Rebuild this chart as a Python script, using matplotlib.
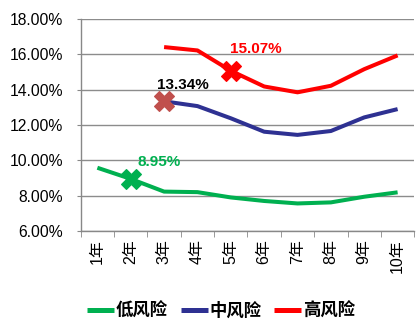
import matplotlib
matplotlib.use("Agg")
import matplotlib.pyplot as plt
from matplotlib.ticker import FuncFormatter

plt.rcParams['font.family'] = ['Liberation Sans', 'Noto Sans CJK SC']

years = ["1年", "2年", "3年", "4年", "5年", "6年", "7年", "8年", "9年", "10年"]

# yields by holding period (%), None where the series is absent
low_risk = [9.58, 8.95, 8.23, 8.2, 7.9, 7.7, 7.56, 7.62, 7.94, 8.19]
mid_risk = [None, None, 13.34, 13.07, 12.38, 11.62, 11.44, 11.66, 12.43, 12.9]
high_risk = [None, None, 16.41, 16.22, 15.07, 14.18, 13.85, 14.22, 15.16, 15.94]

series_names = ["低风险", "中风险", "高风险"]
series_colors = ["#00B050", "#2E3192", "#FF0000"]

# highlighted points: (series index, category index, label colour, marker colour)
highlights = [(0, 1, "#00B050", "#00B050"),
              (1, 2, "#000000", "#C0504D"),
              (2, 4, "#FF0000", "#FF0000")]

fig = plt.figure(figsize=(4.17, 3.32), dpi=100)
ax = fig.add_axes([0.1935, 0.3042, 0.80, 0.6386])

all_series = [low_risk, mid_risk, high_risk]
for vals, name, col in zip(all_series, series_names, series_colors):
    xs = [i for i, v in enumerate(vals) if v is not None]
    ys = [v for v in vals if v is not None]
    ax.plot(xs, ys, color=col, lw=2.9, solid_capstyle="butt", label=name, zorder=3)

label_offsets = {0: (0.85, 0.94), 1: (0.57, 0.9), 2: (0.75, 1.23)}
for si, ci, tcol, mcol in highlights:
    v = all_series[si][ci]
    ax.plot(ci, v, marker="X", ms=14, color=mcol, mec=mcol, mew=0.8, zorder=4)
    dx, dy = label_offsets[si]
    ax.text(ci + dx, v + dy, f"{v:.2f}%", color=tcol, fontsize=11,
            fontweight="bold", ha="center", va="center", zorder=5)

ax.set_xlim(-0.5, 9.5)
ax.set_ylim(6, 18)
ax.set_yticks([6, 8, 10, 12, 14, 16, 18])
ax.yaxis.set_major_formatter(FuncFormatter(lambda v, p: f"{v:.2f}%"))
ax.set_xticks(range(len(years)))
ax.set_xticklabels(years, rotation=90)
ax.set_xticks([i - 0.5 for i in range(len(years) + 1)], minor=True)
ax.tick_params(axis="x", which="major", length=0, pad=6, labelsize=11.5)
ax.tick_params(axis="x", which="minor", length=4, color="#888888", direction="out")
ax.tick_params(axis="y", length=3, color="#888888", labelsize=11.3, pad=9.5)

ax.grid(axis="y", color="#8C8C8C", lw=1.0, zorder=0)
for s in ["top", "right"]:
    ax.spines[s].set_visible(False)
for s in ["left", "bottom"]:
    ax.spines[s].set_color("#888888")
    ax.spines[s].set_linewidth(1.0)

leg = fig.legend(loc="center", bbox_to_anchor=(0.53, 0.066), ncol=3, frameon=False,
                 handlelength=1.55, handletextpad=0.1, columnspacing=0.75,
                 prop={"weight": "bold", "size": 12.5})
for line in leg.get_lines():
    line.set_linewidth(3.6)

fig.savefig("out.png", dpi=100)
